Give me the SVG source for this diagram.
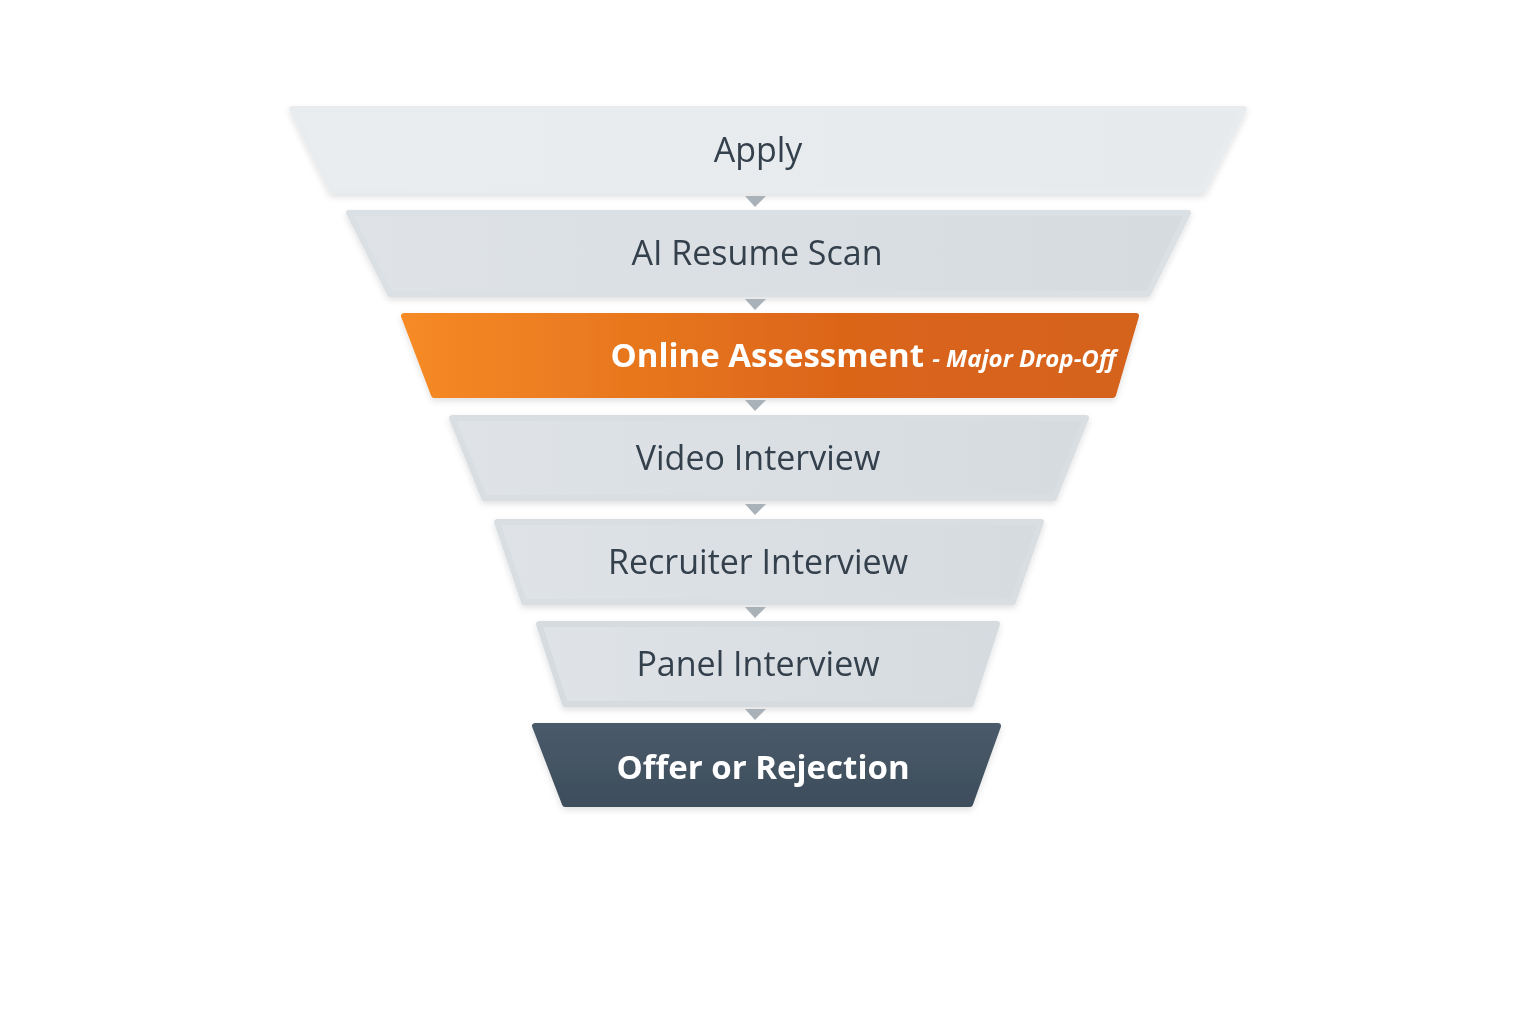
<svg xmlns="http://www.w3.org/2000/svg" width="1536" height="1024" viewBox="0 0 1536 1024">
<defs>
<linearGradient id="g1" x1="0" y1="0" x2="1" y2="0"><stop offset="0" stop-color="#eaedf0"/><stop offset="1" stop-color="#e6eaed"/></linearGradient>
<linearGradient id="g2" x1="0" y1="0" x2="1" y2="0"><stop offset="0" stop-color="#dfe3e7"/><stop offset="1" stop-color="#d6dbe0"/></linearGradient>
<linearGradient id="go" x1="0" y1="0" x2="1" y2="0"><stop offset="0" stop-color="#f68a25"/><stop offset="0.6" stop-color="#db6519"/><stop offset="1" stop-color="#d5631e"/></linearGradient>
<linearGradient id="gd" x1="0" y1="0" x2="0" y2="1"><stop offset="0" stop-color="#4a5a6a"/><stop offset="1" stop-color="#3e4d5c"/></linearGradient>
<filter id="sh" x="-5%" y="-20%" width="110%" height="150%"><feDropShadow dx="0" dy="3" stdDeviation="3" flood-color="#000" flood-opacity="0.12"/></filter>
</defs>
<style>
.t{font-family:"Open Sans","Noto Sans",sans-serif;font-size:34px;fill:#34404d;text-anchor:middle}
.w{font-family:"Open Sans","Noto Sans",sans-serif;font-weight:bold;fill:#fff}
.s{stroke-linejoin:round;stroke-width:6}
.a{fill:#a9b1b9}
</style>
<rect width="1536" height="1024" fill="#fff"/>
<g id="n1" filter="url(#sh)"><polygon class="s" points="292,109 1244,109 1203,191 332,191" fill="url(#g1)" stroke="#e8ecef"/><text class="t" x="758" y="162">Apply</text></g>
<g id="n2" filter="url(#sh)"><polygon class="s" points="349,213 1188,213 1148,294 390,294" fill="url(#g2)" stroke="#dbe0e4"/><text class="t" x="757" y="265">AI Resume Scan</text></g>
<g id="n3" filter="url(#sh)"><polygon class="s" points="404,316 1136,316 1113,395 434,395" fill="url(#go)" stroke="url(#go)"/><text class="w" x="1116" y="367" text-anchor="end"><tspan font-size="33">Online Assessment</tspan><tspan font-size="24" font-style="italic" dx="8">- Major Drop-Off</tspan></text></g>
<g id="n4" filter="url(#sh)"><polygon class="s" points="452,418 1086,418 1054,498 484,498" fill="url(#g2)" stroke="#d9dee2"/><text class="t" x="758" y="470">Video Interview</text></g>
<g id="n5" filter="url(#sh)"><polygon class="s" points="497,522 1041,522 1013,602 524,602" fill="url(#g2)" stroke="#d9dee2"/><text class="t" x="758" y="574">Recruiter Interview</text></g>
<g id="n6" filter="url(#sh)"><polygon class="s" points="539,624 997,624 971,704 565,704" fill="url(#g2)" stroke="#d6dbe0"/><text class="t" x="758" y="676">Panel Interview</text></g>
<g id="n7" filter="url(#sh)"><polygon class="s" points="535,726 998,726 970,804 565,804" fill="url(#gd)" stroke="url(#gd)"/><text class="w" x="763" y="779" font-size="33" text-anchor="middle">Offer or Rejection</text></g>
<g id="connectors">
<polygon class="a" points="745,196 766,196 755,207"/>
<polygon class="a" points="745,299 766,299 755,310"/>
<polygon class="a" points="745,400 766,400 755,411"/>
<polygon class="a" points="745,504 766,504 755,515"/>
<polygon class="a" points="745,607 766,607 755,618"/>
<polygon class="a" points="745,709 766,709 755,720"/>
</g>
</svg>
